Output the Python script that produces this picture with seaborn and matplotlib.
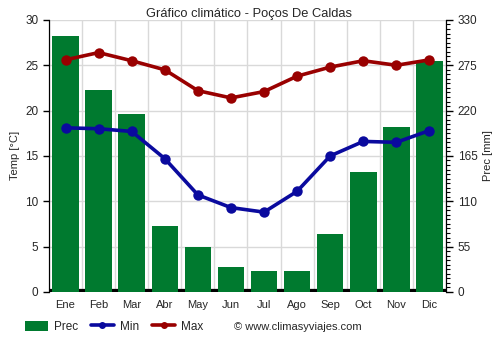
import numpy as np
import pandas as pd
import matplotlib
matplotlib.use("Agg")
import matplotlib.pyplot as plt
import seaborn as sns
from matplotlib.patches import Patch
from matplotlib.lines import Line2D
from matplotlib.ticker import MultipleLocator, FixedLocator

months = ["Ene", "Feb", "Mar", "Abr", "May", "Jun", "Jul", "Ago", "Sep", "Oct", "Nov", "Dic"]
prec = [311, 245, 216, 80, 55, 30, 25, 25, 70, 146, 200, 280]
tmin = [18.1, 18.0, 17.7, 14.7, 10.7, 9.3, 8.8, 11.1, 15.0, 16.6, 16.5, 17.8]
tmax = [25.6, 26.4, 25.5, 24.5, 22.2, 21.4, 22.1, 23.8, 24.8, 25.5, 25.0, 25.6]

title = "Gráfico climático - Poços De Caldas"
credit = "© www.climasyviajes.com"

sns.set_style("white")
plt.rcParams["font.family"] = ["Liberation Sans", "DejaVu Sans"]

c_bar = "#007a2f"
c_min = "#0a0a9e"
c_max = "#990000"

df = pd.DataFrame({"mes": months, "prec": prec, "tmin": tmin, "tmax": tmax})

fig = plt.figure(figsize=(5, 3.5), dpi=100)
ax = fig.add_axes([0.098, 0.166, 0.794, 0.777])
ax2 = ax.twinx()

# precipitation bars on ax (drawn underneath)
sns.barplot(data=df, x="mes", y="prec", color=c_bar, width=0.8, saturation=1,
            linewidth=0, edgecolor="none", ax=ax, zorder=2)
ax.set_ylim(0, 330)
ax.set_xlim(-0.5, 11.5)
ax.yaxis.tick_right()
ax.yaxis.set_label_position("right")
ax.yaxis.set_major_locator(MultipleLocator(55))
ax.yaxis.set_minor_locator(MultipleLocator(5.5))
ax.set_ylabel("Prec [mm]", fontsize=8)
ax.set_xlabel("")
ax.xaxis.set_minor_locator(FixedLocator(np.arange(-0.5, 12, 1)))
ax.grid(True, which="minor", axis="x", color="#d9d9d9", lw=1, zorder=0)
ax.grid(True, which="major", axis="y", color="#d9d9d9", lw=1, zorder=0)
ax.set_axisbelow(True)
ax.axhline(0, color="black", lw=4.5, zorder=1.5)
ax.tick_params(axis="x", which="major", length=0, labelsize=8, pad=6)
ax.tick_params(axis="x", which="minor", length=5, width=1, color="black", direction="out")
ax.tick_params(axis="y", which="major", length=5, width=1, color="black", direction="out",
               labelsize=8, right=True, left=False)
ax.tick_params(axis="y", which="minor", length=3, width=0.8, color="black", direction="out",
               right=True, left=False)

# temperature lines on ax2
sns.lineplot(data=df, x="mes", y="tmin", color=c_min, lw=2.6, marker="o", ms=7.5,
             markeredgewidth=0, ax=ax2, sort=False)
sns.lineplot(data=df, x="mes", y="tmax", color=c_max, lw=2.6, marker="o", ms=7.5,
             markeredgewidth=0, ax=ax2, sort=False)
ax2.set_ylim(0, 30)
ax2.set_xlim(-0.5, 11.5)
ax2.yaxis.tick_left()
ax2.yaxis.set_label_position("left")
ax2.yaxis.set_major_locator(MultipleLocator(5))
ax2.set_ylabel("Temp [°C]", fontsize=8)
ax2.tick_params(axis="y", length=4, width=1, color="black", direction="out", labelsize=8.5,
                left=True, right=False, labelleft=True, labelright=False)
ax.tick_params(axis="y", labelsize=8.5)

for a in (ax, ax2):
    a.spines["top"].set_visible(False)
    a.spines["bottom"].set_visible(False)
    a.spines["left"].set_color("black")
    a.spines["right"].set_color("black")

fig.text(0.498, 0.96, title, ha="center", va="center", fontsize=9.3)

handles = [
    Patch(facecolor=c_bar, edgecolor="none"),
    Line2D([0], [0], color=c_min, lw=2.6, marker="o", ms=4),
    Line2D([0], [0], color=c_max, lw=2.6, marker="o", ms=4),
]
fig.legend(handles, ["Prec", "Min", "Max"], loc="center left", bbox_to_anchor=(0.028, 0.066),
           ncol=3, frameon=False, fontsize=8.5, handlelength=2.0, columnspacing=1.1,
           handletextpad=0.45, handleheight=0.9)
fig.text(0.468, 0.066, credit, ha="left", va="center", fontsize=8)

fig.savefig("out.png", dpi=100)
